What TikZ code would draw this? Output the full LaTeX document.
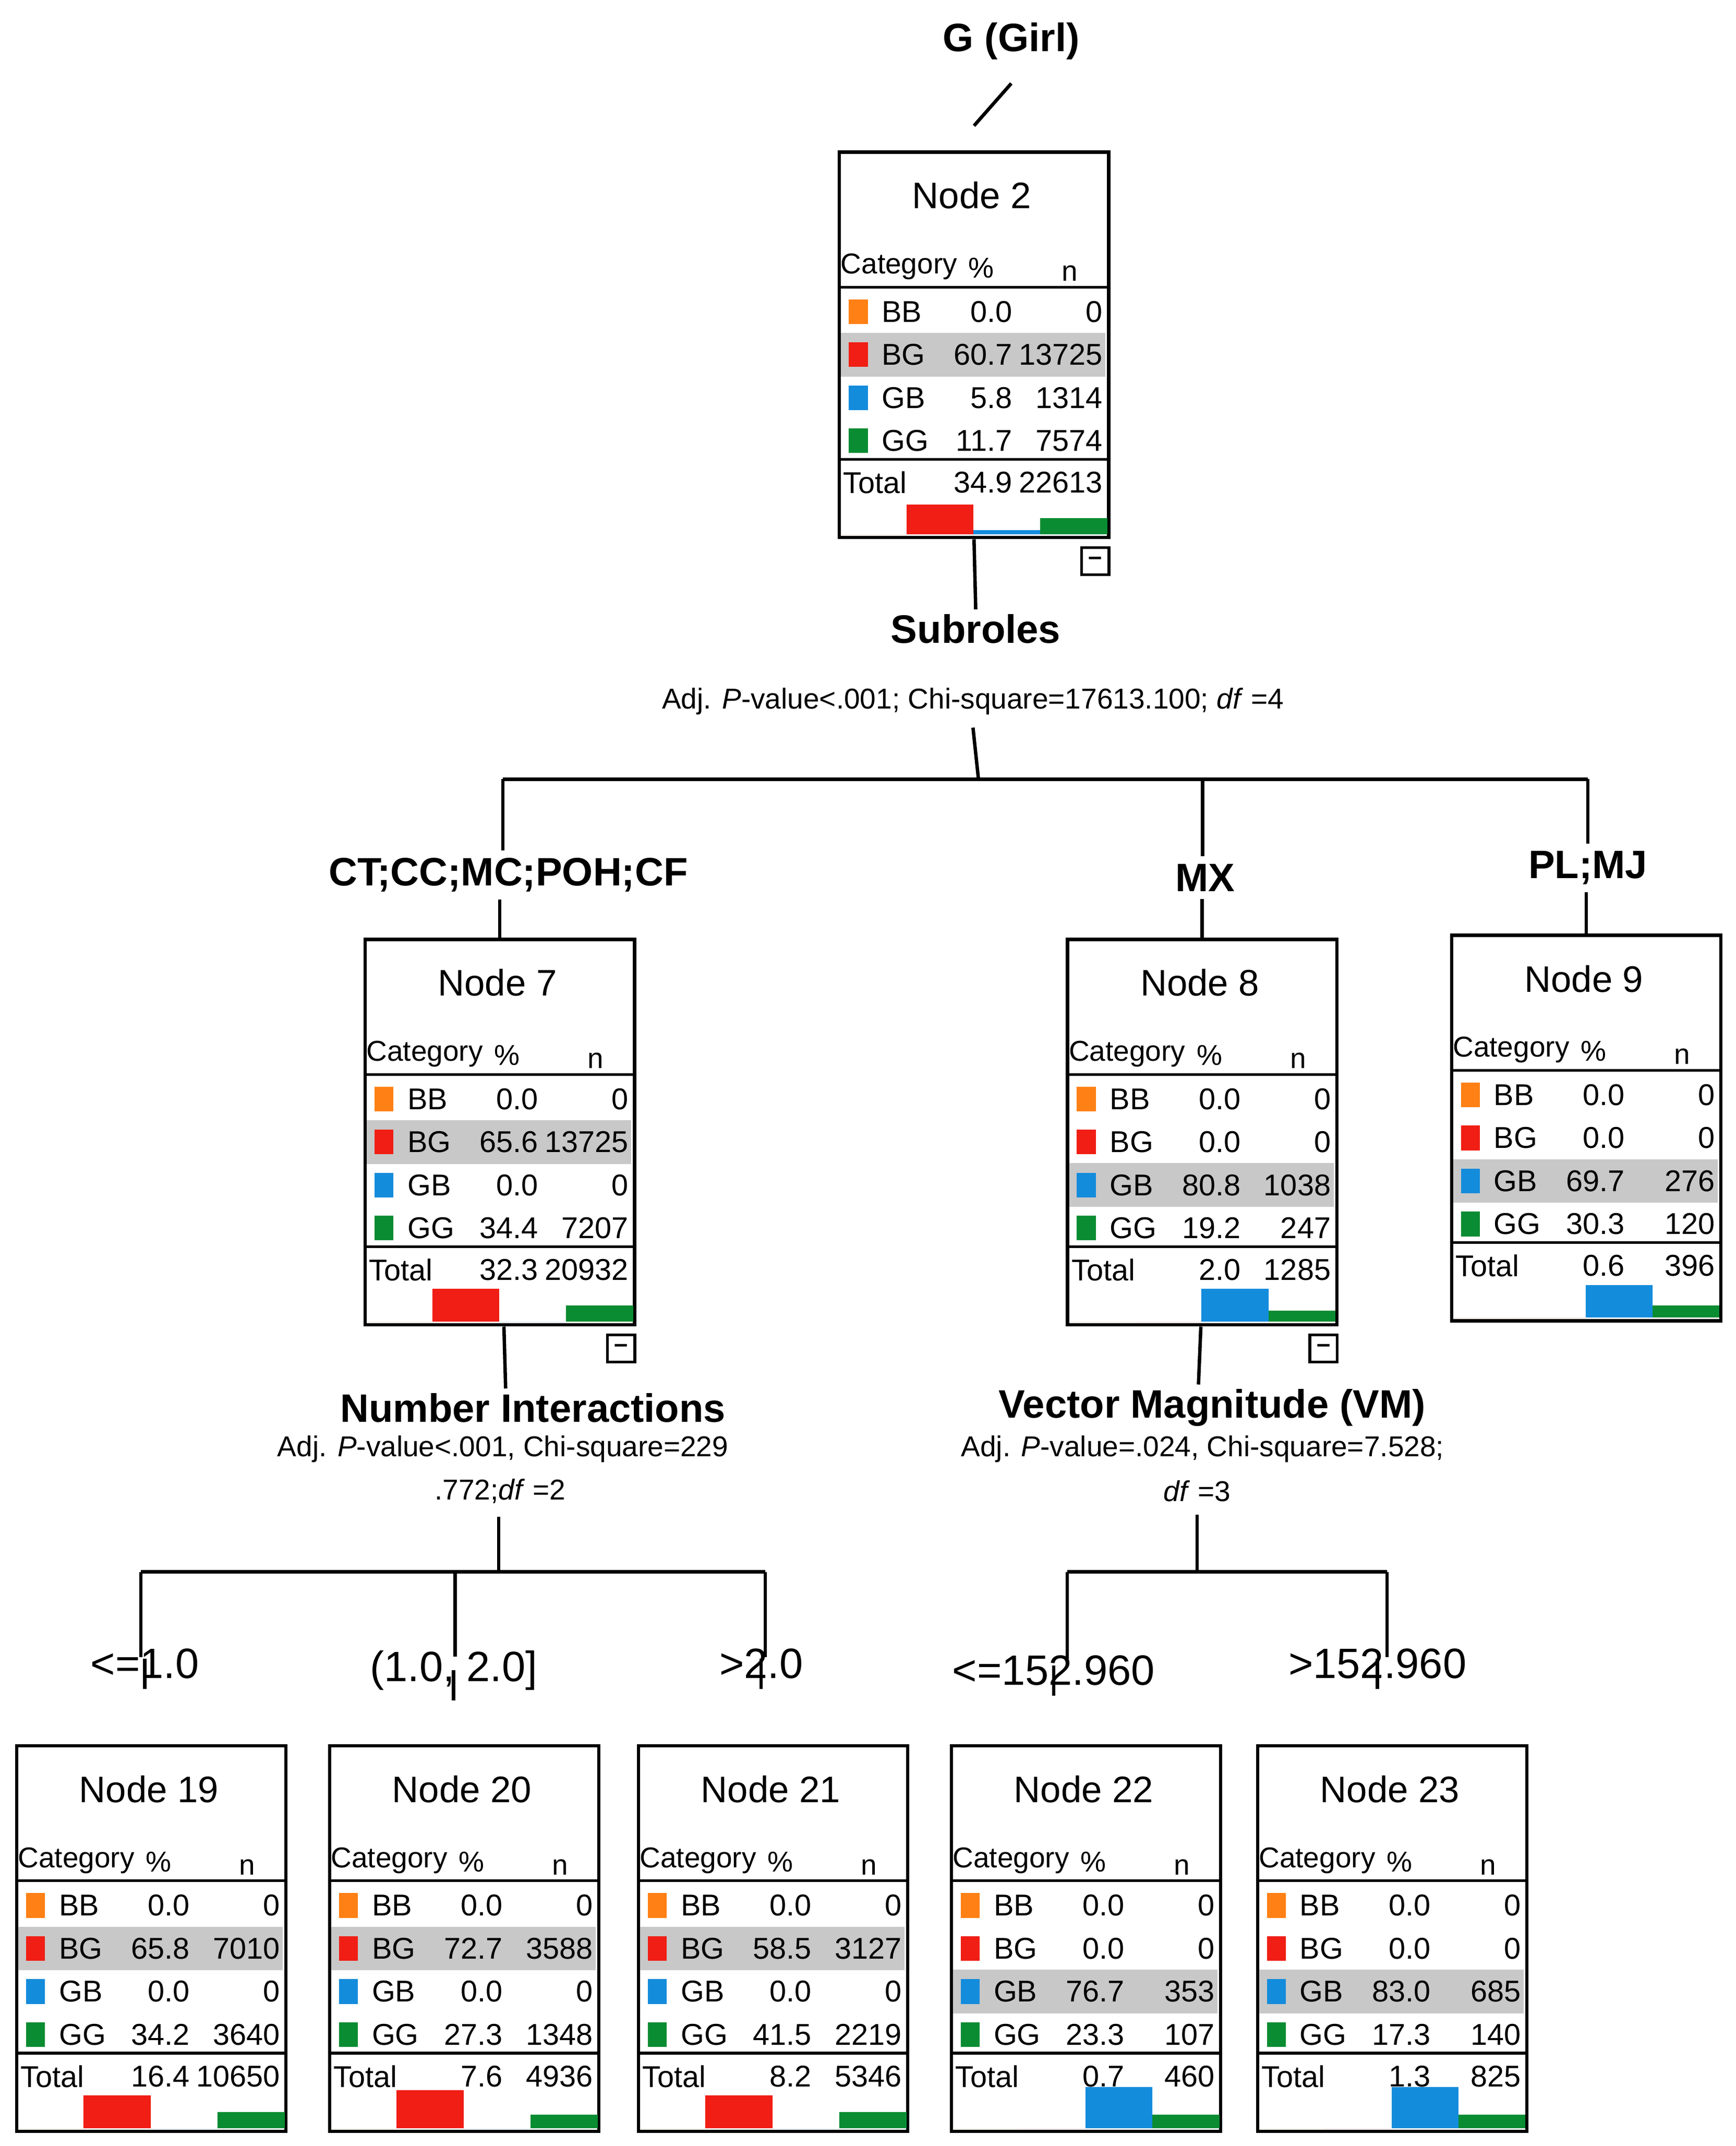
\documentclass[tikz,border=0pt]{standalone}
\usepackage{fontspec}
\setmainfont{Liberation Sans}
\definecolor{cBB}{RGB}{255,128,20}
\definecolor{cBG}{RGB}{240,30,20}
\definecolor{cGB}{RGB}{20,140,220}
\definecolor{cGG}{RGB}{10,140,50}
\definecolor{band}{RGB}{200,200,200}
\newcommand\fs[1]{\fontsize{#1}{#1}\selectfont}
\tikzset{
  box/.style={draw,line width=2.5pt,minimum width=197pt,minimum height=282pt,anchor=north west,inner sep=0pt},
  rowt/.style={font=\fs{22}},
  lab/.style={font=\bfseries\fs{29}},
  stat/.style={font=\fs{21}},
  conn/.style={line width=2.5pt},
  minus/.style={draw,line width=2pt,minimum size=20pt,inner sep=0pt,font=\bfseries\fs{18}}
}
% #1 name #2 x #3 y #4 number #5 rows #6 tot pct #7 tot n #8 highlighted row #9 bar heights
\newcommand\tnode[9]{%
 \begin{scope}[shift={(#2,#3)}]
  \fill[band] (1,{118+31.5*(#8-1)-16}) rectangle (196,{118+31.5*(#8-1)+16});
  \node[box,name=#1] at (0,0) {};
  \node[font=\fs{27}] at (98,33) {Node #4};
  \node[font=\fs{21},anchor=west,inner sep=0] at (2,85) {Category};
  \node[font=\fs{21}] at (105,86) {\%};
  \node[font=\fs{21}] at (170,90) {n};
  \draw[line width=2pt] (0,100) -- (197,100);
  \draw[line width=2pt] (0,226) -- (197,226);
  \foreach \c/\l/\p/\n [count=\k] in {#5}{
    \fill[\c] (8,{118+31.5*(\k-1)-9}) rectangle (22,{118+31.5*(\k-1)+9});
    \node[rowt,anchor=west,inner sep=0] at (32,{118+31.5*(\k-1)}) {\l};
    \node[rowt,anchor=east,inner sep=0] at (128,{118+31.5*(\k-1)}) {\p};
    \node[rowt,anchor=east,inner sep=0] at (194,{118+31.5*(\k-1)}) {\n};
  }
  \node[rowt,anchor=west,inner sep=0] at (4,243) {Total};
  \node[rowt,anchor=east,inner sep=0] at (128,243) {#6};
  \node[rowt,anchor=east,inner sep=0] at (194,243) {#7};
  \foreach \h/\c [count=\i from 0] in {#9}{
    \fill[\c] ({1.25+\i*49},281) rectangle ({1.25+(\i+1)*49},{281-\h});
  }
 \end{scope}}
\begin{document}
\begin{tikzpicture}[x=1pt,y=-1pt]
\useasboundingbox (0,0) rectangle (1270,1570);
\fill[white] (0,0) rectangle (1270,1570);
% top
\node[lab] (g) at (740,30) {G (Girl)};
\tnode{n2}{613}{110}{2}{cBB/BB/0.0/0,cBG/BG/60.7/13725,cGB/GB/5.8/1314,cGG/GG/11.7/7574}{34.9}{22613}{2}{0/cBB,22/cBG,3/cGB,12/cGG}
\node[minus] at ([shift={(-11,16)}]n2.south east) {--};
\draw[conn] ([yshift=-14pt]g.south) -- ([yshift=18pt]n2.north);
\node[lab] (s1) at (714,460) {Subroles};
\node[stat] (s1b) at (712,513) {Adj. \textit{P}-value<.001; Chi-square=17613.100; \textit{df} =4};
\draw[conn] (n2.south) -- (s1.north);
\coordinate (h0) at (716,570);
\coordinate (h1) at (368,570);
\coordinate (h2) at (880,570);
\coordinate (h3) at (1162,570);
\draw[conn] ([yshift=-6pt]s1b.south) -- (h0);
\draw[conn] (h1) -- (h3);
\node[lab] (l1) at (372,640) {CT;CC;MC;POH;CF};
\node[lab] (l2) at (882,642) {MX};
\node[lab] (l3) at (1162,635) {PL;MJ};
\draw[conn] (h1) -- ([yshift=2pt]l1.north-|h1);
\draw[conn] (h2) -- ([yshift=2pt]l2.north-|h2);
\draw[conn] (h3) -- ([yshift=2pt]l3.north-|h3);
\tnode{n7}{266}{686}{7}{cBB/BB/0.0/0,cBG/BG/65.6/13725,cGB/GB/0.0/0,cGG/GG/34.4/7207}{32.3}{20932}{2}{0/cBB,24/cBG,0/cGB,12/cGG}
\tnode{n8}{780}{686}{8}{cBB/BB/0.0/0,cBG/BG/0.0/0,cGB/GB/80.8/1038,cGG/GG/19.2/247}{2.0}{1285}{3}{0/cBB,0/cBG,24/cGB,8/cGG}
\tnode{n9}{1061}{683}{9}{cBB/BB/0.0/0,cBG/BG/0.0/0,cGB/GB/69.7/276,cGG/GG/30.3/120}{0.6}{396}{3}{0/cBB,0/cBG,24/cGB,9/cGG}
\node[minus] at ([shift={(-11,16)}]n7.south east) {--};
\node[minus] at ([shift={(-11,16)}]n8.south east) {--};
\draw[conn] ([yshift=-2pt]l1.south-|n7.north) -- (n7.north);
\draw[conn] ([yshift=-2pt]l2.south-|n8.north) -- (n8.north);
\draw[conn] ([yshift=-2pt]l3.south-|n9.north) -- (n9.north);
% Node 7 split
\node[lab] (s7) at (390,1030) {Number Interactions};
\node[stat] (s7b) at (368,1060) {Adj. \textit{P}-value<.001, Chi-square=229};
\node[stat] (s7c) at (366,1091) {.772;\textit{df} =2};
\draw[conn] ([xshift=3pt]n7.south) -- ([xshift=-20pt]s7.north);
\coordinate (k0) at (365,1150);
\coordinate (k1) at (103,1150);
\coordinate (k2) at (333,1150);
\coordinate (k3) at (560,1150);
\draw[conn] ([yshift=-6pt]s7c.south-|k0) -- (k0);
\draw[conn] (k1) -- (k3);
\node[lab,font=\fs{31}] (a1) at (106,1217) {<=1.0};
\node[lab,font=\fs{31}] (a2) at (332,1222) {(1.0, 2.0]};
\node[lab,font=\fs{31}] (a3) at (557,1217) {>2.0};
\draw[conn] (k1) -- ([yshift=-10pt]a1.north-|k1);
\draw[conn] (k2) -- ([yshift=-8pt]a2.north-|k2);
\draw[conn] (k3) -- ([yshift=-10pt]a3.north-|k3);
% Node 8 split
\node[lab] (s8) at (887,1030) {Vector Magnitude (VM)};
\node[stat] (s8b) at (880,1060) {Adj. \textit{P}-value=.024, Chi-square=7.528;};
\node[stat] (s8c) at (876,1091) {\textit{df} =3};
\draw[conn] ([xshift=-1pt]n8.south) -- ([xshift=-10pt]s8.north);
\coordinate (m0) at (876,1150);
\coordinate (m1) at (781,1150);
\coordinate (m2) at (1015,1150);
\draw[conn] ([yshift=-6pt]s8c.south-|m0) -- (m0);
\draw[conn] (m1) -- (m2);
\node[lab,font=\fs{31}] (b1) at (771,1222) {<=152.960};
\node[lab,font=\fs{31}] (b2) at (1008,1217) {>152.960};
\draw[conn] (m1) -- ([yshift=-8pt]b1.north-|m1);
\draw[conn] (m2) -- ([yshift=-10pt]b2.north-|m2);
% bottom nodes
\tnode{n19}{11}{1276}{19}{cBB/BB/0.0/0,cBG/BG/65.8/7010,cGB/GB/0.0/0,cGG/GG/34.2/3640}{16.4}{10650}{2}{0/cBB,24/cBG,0/cGB,12/cGG}
\tnode{n20}{240}{1276}{20}{cBB/BB/0.0/0,cBG/BG/72.7/3588,cGB/GB/0.0/0,cGG/GG/27.3/1348}{7.6}{4936}{2}{0/cBB,28/cBG,0/cGB,10/cGG}
\tnode{n21}{466}{1276}{21}{cBB/BB/0.0/0,cBG/BG/58.5/3127,cGB/GB/0.0/0,cGG/GG/41.5/2219}{8.2}{5346}{2}{0/cBB,24/cBG,0/cGB,12/cGG}
\tnode{n22}{695}{1276}{22}{cBB/BB/0.0/0,cBG/BG/0.0/0,cGB/GB/76.7/353,cGG/GG/23.3/107}{0.7}{460}{3}{0/cBB,0/cBG,30/cGB,10/cGG}
\tnode{n23}{919}{1276}{23}{cBB/BB/0.0/0,cBG/BG/0.0/0,cGB/GB/83.0/685,cGG/GG/17.3/140}{1.3}{825}{3}{0/cBB,0/cBG,30/cGB,10/cGG}
\draw[conn] ([yshift=-4pt]a1.south) -- ([yshift=18pt]a1.south) ;
\draw[conn] ([yshift=-4pt]a2.south) -- ([yshift=18pt]a2.south) ;
\draw[conn] ([yshift=-4pt]a3.south) -- ([yshift=18pt]a3.south) ;
\draw[conn] ([yshift=-4pt]b1.south) -- ([yshift=18pt]b1.south) ;
\draw[conn] ([yshift=-4pt]b2.south) -- ([yshift=18pt]b2.south) ;
\path (n19.north) (n20.north) (n21.north) (n22.north) (n23.north);
\end{tikzpicture}
\end{document}
